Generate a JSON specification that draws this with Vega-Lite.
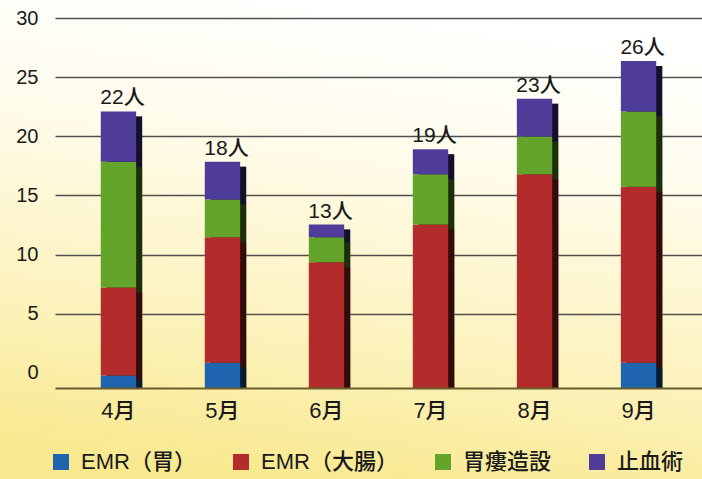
{
  "$schema": "https://vega.github.io/schema/vega-lite/v6.json",
  "width": 702,
  "height": 479,
  "autosize": "none",
  "padding": 0,
  "background": "#fbf3c4",
  "config": {
    "view": {
      "stroke": null,
      "fill": {
        "gradient": "linear",
        "x1": 0.55, "y1": 0, "x2": 0.35, "y2": 1,
        "stops": [
          {"offset": 0, "color": "#ffffff"},
          {"offset": 0.3, "color": "#fffcec"},
          {"offset": 0.7, "color": "#fcf2bc"},
          {"offset": 1, "color": "#f8e98e"}
        ]
      }
    },
    "legend": {
      "title": null,
      "orient": "none",
      "legendX": 50,
      "legendY": 451,
      "direction": "horizontal",
      "symbolType": "square",
      "symbolSize": 256,
      "symbolStrokeWidth": 0,
      "symbolOpacity": 1,
      "labelFont": "Liberation Sans, Noto Sans CJK JP",
      "labelFontSize": 22,
      "labelFontWeight": 500,
      "labelColor": "#1a1a1a",
      "labelOffset": 9,
      "columnPadding": 34
    }
  },
  "datasets": {
    "counts": [
      {"month": "4月", "type": "EMR（胃）", "count": 1},
      {"month": "4月", "type": "EMR（大腸）", "count": 7},
      {"month": "4月", "type": "胃瘻造設", "count": 10},
      {"month": "4月", "type": "止血術", "count": 4},
      {"month": "5月", "type": "EMR（胃）", "count": 2},
      {"month": "5月", "type": "EMR（大腸）", "count": 10},
      {"month": "5月", "type": "胃瘻造設", "count": 3},
      {"month": "5月", "type": "止血術", "count": 3},
      {"month": "6月", "type": "EMR（胃）", "count": 0},
      {"month": "6月", "type": "EMR（大腸）", "count": 10},
      {"month": "6月", "type": "胃瘻造設", "count": 2},
      {"month": "6月", "type": "止血術", "count": 1},
      {"month": "7月", "type": "EMR（胃）", "count": 0},
      {"month": "7月", "type": "EMR（大腸）", "count": 13},
      {"month": "7月", "type": "胃瘻造設", "count": 4},
      {"month": "7月", "type": "止血術", "count": 2},
      {"month": "8月", "type": "EMR（胃）", "count": 0},
      {"month": "8月", "type": "EMR（大腸）", "count": 17},
      {"month": "8月", "type": "胃瘻造設", "count": 3},
      {"month": "8月", "type": "止血術", "count": 3},
      {"month": "9月", "type": "EMR（胃）", "count": 2},
      {"month": "9月", "type": "EMR（大腸）", "count": 14},
      {"month": "9月", "type": "胃瘻造設", "count": 6},
      {"month": "9月", "type": "止血術", "count": 4}
    ]
  },
  "data": {"name": "counts"},
  "encoding": {
    "x": {
      "field": "month",
      "type": "nominal",
      "sort": null,
      "scale": {"range": [55, 702], "paddingInner": 0.66, "paddingOuter": 0.44},
      "axis": {
        "title": null,
        "orient": "bottom",
        "offset": -91,
        "labelAngle": 0,
        "ticks": false,
        "domainColor": "#6b5c2c",
        "domainWidth": 2,
        "labelPadding": 12,
        "labelFont": "Liberation Sans, Noto Sans CJK JP",
        "labelFontSize": 22,
        "labelFontWeight": 500,
        "labelColor": "#1a1a1a",
        "zindex": 1
      }
    }
  },
  "resolve": {"scale": {"y": "independent"}},
  "layer": [
    {
      "mark": {"type": "point", "opacity": 0},
      "encoding": {
        "y": {
          "datum": 0,
          "type": "quantitative",
          "scale": {"domain": [-1.27, 30], "range": [388, 18], "nice": false, "zero": false},
          "axis": {
            "values": [0, 5, 10, 15, 20, 25, 30],
            "title": null,
            "domain": false,
            "ticks": false,
            "labelPadding": -38,
            "labelAlign": "right",
            "labelFont": "Liberation Sans",
            "labelFontSize": 20,
            "labelColor": "#1a1a1a",
            "grid": true,
            "gridColor": "#505050",
            "gridWidth": 1.7,
            "gridOpacity": {"condition": {"test": "datum.value === 0", "value": 0}, "value": 1}
          }
        }
      }
    },
    {
      "layer": [
        {
          "transform": [
            {"filter": "datum.count > 0"},
            {"calculate": "indexof(['EMR（胃）','EMR（大腸）','胃瘻造設','止血術'], datum.type)", "as": "stackOrder"},
            {"stack": "count", "groupby": ["month"], "sort": [{"field": "stackOrder", "order": "ascending"}], "as": ["y0", "y1"]}
          ],
          "mark": {"type": "bar", "xOffset": 6, "yOffset": 5},
          "encoding": {
            "y": {"field": "y1", "type": "quantitative", "scale": {"domain": [0, 29.43], "range": [388, 18], "nice": false}, "axis": null},
            "y2": {"datum": 0},
            "order": {"field": "stackOrder", "type": "quantitative", "sort": "descending"},
            "color": {
              "field": "type",
              "type": "nominal",
              "scale": {"domain": ["EMR（胃）", "EMR（大腸）", "胃瘻造設", "止血術"], "range": ["#1e64ae", "#b32b2a", "#64a42b", "#4e3c98"]}
            }
          }
        },
        {
          "transform": [
            {"aggregate": [{"op": "sum", "field": "count", "as": "total"}], "groupby": ["month"]}
          ],
          "mark": {"type": "bar", "xOffset": 6, "yOffset": 5, "color": "#000000", "opacity": 0.72},
          "encoding": {
            "y": {"field": "total", "type": "quantitative"},
            "y2": {"datum": 0}
          }
        },
        {
          "transform": [
            {"calculate": "indexof(['EMR（胃）','EMR（大腸）','胃瘻造設','止血術'], datum.type)", "as": "stackOrder"},
            {"stack": "count", "groupby": ["month"], "sort": [{"field": "stackOrder", "order": "ascending"}], "as": ["y0", "y1"]}
          ],
          "mark": {"type": "bar"},
          "encoding": {
            "y": {"field": "y1", "type": "quantitative"},
            "y2": {"field": "y0"},
            "color": {"field": "type", "type": "nominal"}
          }
        },
        {
          "transform": [
            {"aggregate": [{"op": "sum", "field": "count", "as": "total"}], "groupby": ["month"]},
            {"calculate": "datum.total + '人'", "as": "label"}
          ],
          "mark": {"type": "text", "baseline": "alphabetic", "dy": -7, "dx": 4, "font": "Liberation Sans, Noto Sans CJK JP", "fontSize": 21, "fontWeight": 500, "color": "#1a1a1a"},
          "encoding": {
            "y": {"field": "total", "type": "quantitative"},
            "text": {"field": "label"}
          }
        }
      ]
    }
  ]
}
